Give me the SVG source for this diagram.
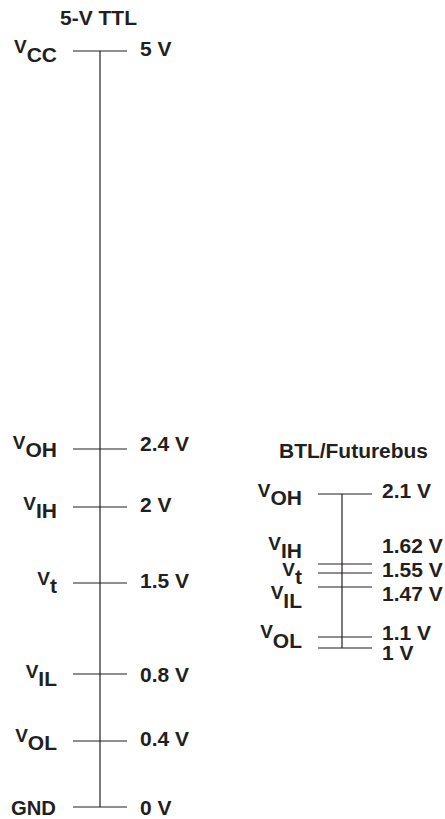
<svg xmlns="http://www.w3.org/2000/svg" width="445" height="819" viewBox="0 0 445 819">
<style>
text{font-family:"Liberation Sans",Arial,sans-serif;font-weight:bold;fill:#231f20}
.t{font-size:20px;text-anchor:middle}
.v{font-size:21px}
.l{font-size:21px;text-anchor:end}
.V{font-size:19px}
line{stroke:#231f20;stroke-width:1.2}
</style>
<rect width="445" height="819" fill="#fff"/>
<g id="connectors">
<line x1="100" y1="51" x2="100" y2="807"/>
<line x1="342" y1="494" x2="342" y2="648"/>
</g>
<g id="ttl-title"><text class="t" x="98.5" y="25" textLength="77" lengthAdjust="spacingAndGlyphs">5-V TTL</text></g>
<g id="ttl-vcc"><line x1="73" y1="51" x2="127" y2="51"/><text class="l" x="57" y="53"><tspan class="V">V</tspan><tspan dy="9">CC</tspan></text><text class="v" x="140" y="55.5">5 V</text></g>
<g id="ttl-voh"><line x1="73" y1="449" x2="127" y2="449"/><text class="l" x="57" y="449"><tspan class="V">V</tspan><tspan dy="8">OH</tspan></text><text class="v" x="140" y="451">2.4 V</text></g>
<g id="ttl-vih"><line x1="73" y1="507" x2="127" y2="507"/><text class="l" x="57" y="510"><tspan class="V">V</tspan><tspan dy="7.5">IH</tspan></text><text class="v" x="140" y="512">2 V</text></g>
<g id="ttl-vt"><line x1="73" y1="583" x2="127" y2="583"/><text class="l" x="57" y="585"><tspan class="V">V</tspan><tspan dy="8">t</tspan></text><text class="v" x="140" y="588">1.5 V</text></g>
<g id="ttl-vil"><line x1="73" y1="674" x2="127" y2="674"/><text class="l" x="57" y="678"><tspan class="V">V</tspan><tspan dy="8">IL</tspan></text><text class="v" x="140" y="681.5">0.8 V</text></g>
<g id="ttl-vol"><line x1="73" y1="741" x2="127" y2="741"/><text class="l" x="57" y="741.5"><tspan class="V">V</tspan><tspan dy="8.5">OL</tspan></text><text class="v" x="140" y="745.5">0.4 V</text></g>
<g id="ttl-gnd"><line x1="73" y1="807" x2="127" y2="807"/><text class="l" x="56" y="814.5" textLength="45" lengthAdjust="spacingAndGlyphs">GND</text><text class="v" x="140" y="814.5">0 V</text></g>
<g id="btl-title"><text class="t" x="353.5" y="458" textLength="149" lengthAdjust="spacingAndGlyphs">BTL/Futurebus</text></g>
<g id="btl-voh"><line x1="318" y1="494" x2="372" y2="494"/><text class="l" x="302" y="497"><tspan class="V">V</tspan><tspan dy="8">OH</tspan></text><text class="v" x="382" y="498">2.1 V</text></g>
<g id="btl-vih"><line x1="318" y1="564" x2="372" y2="564"/><text class="l" x="302" y="549.5"><tspan class="V">V</tspan><tspan dy="8">IH</tspan></text><text class="v" x="382" y="553">1.62 V</text></g>
<g id="btl-vt"><line x1="318" y1="573" x2="372" y2="573"/><text class="l" x="302" y="576"><tspan class="V">V</tspan><tspan dy="7.5">t</tspan></text><text class="v" x="382" y="577">1.55 V</text></g>
<g id="btl-vil"><line x1="318" y1="587" x2="372" y2="587"/><text class="l" x="302" y="599"><tspan class="V">V</tspan><tspan dy="9">IL</tspan></text><text class="v" x="382" y="601">1.47 V</text></g>
<g id="btl-vol"><line x1="318" y1="637" x2="372" y2="637"/><text class="l" x="302" y="638"><tspan class="V">V</tspan><tspan dy="9.5">OL</tspan></text><text class="v" x="382" y="640">1.1 V</text></g>
<g id="btl-1v"><line x1="318" y1="648" x2="372" y2="648"/><text class="v" x="382" y="660">1 V</text></g>
</svg>
